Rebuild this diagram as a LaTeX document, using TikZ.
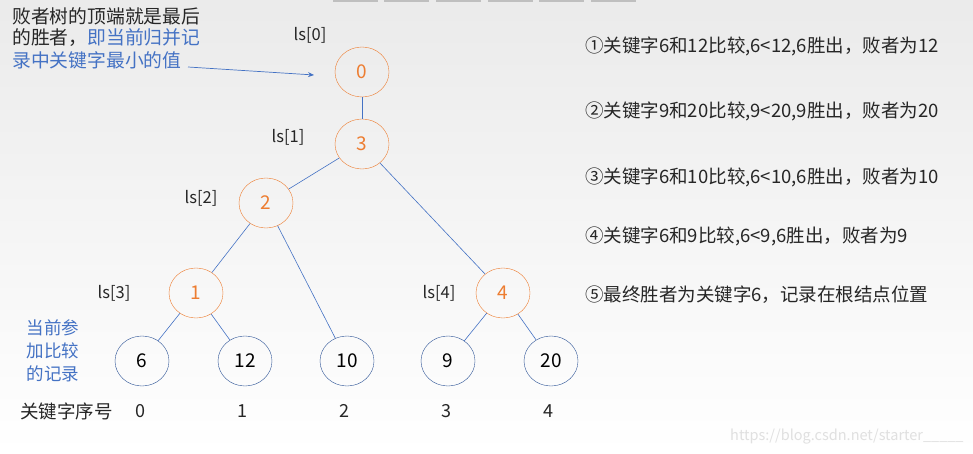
\documentclass[tikz,border=0pt]{standalone}
\usepackage{fontspec}
\setmainfont{Noto Sans CJK SC}
\usetikzlibrary{shapes.geometric,arrows.meta}
\definecolor{orng}{HTML}{ED7D31}
\definecolor{lblue}{HTML}{4472C4}
\definecolor{dblue}{HTML}{2F5597}
\begin{document}
\begin{tikzpicture}[x=1pt,y=-1pt,
  inner/.style={ellipse,draw=orng,text=orng,minimum width=54pt,minimum height=50pt,inner sep=0pt,font=\fontsize{19}{21}\selectfont},
  leaf/.style={ellipse,draw=dblue,text=black,minimum width=54pt,minimum height=50pt,inner sep=0pt,font=\fontsize{19}{21}\selectfont},
  edge/.style={draw=lblue,line width=0.6pt},
  lab/.style={font=\fontsize{16.5}{18}\selectfont,text=black!85,inner sep=0pt},
  note/.style={font=\fontsize{18.5}{20}\selectfont,text=black!85,inner sep=0pt,anchor=west},
  big/.style={font=\fontsize{18.8}{23}\selectfont,inner sep=0pt,anchor=west}]
\useasboundingbox (0,0) rectangle (973,454);
\shade[top color=black!8,bottom color=white] (0,0) rectangle (973,454);
\foreach \a in {333,384,436,488,539,591}{\fill[black!25] (\a,0) rectangle (\a+45,2);}
% tree nodes
\node[inner] (n0) at (362,72) {0};
\node[inner] (n3) at (362,144) {3};
\node[inner] (n2) at (266,203) {2};
\node[inner] (n1) at (196,293) {1};
\node[inner] (n4) at (503,293) {4};
\node[leaf] (k0) at (142,361) {6};
\node[leaf] (k1) at (245,361) {12};
\node[leaf] (k2) at (347,361) {10};
\node[leaf] (k3) at (448,361) {9};
\node[leaf] (k4) at (551,361) {20};
\draw[edge] (n0) -- (n3);
\draw[edge] (n3) -- (n2);
\draw[edge] (n3) -- (n4);
\draw[edge] (n2) -- (n1);
\draw[edge] (n2) -- (k2);
\draw[edge] (n1) -- (k0);
\draw[edge] (n1) -- (k1);
\draw[edge] (n4) -- (k3);
\draw[edge] (n4) -- (k4);
% ls labels
\node[lab] (l0) at (310,35) {ls[0]};
\node[lab] (l1) at (288,137) {ls[1]};
\node[lab] (l2) at (201,198) {ls[2]};
\node[lab] (l3) at (114,293) {ls[3]};
\node[lab] (l4) at (439,293) {ls[4]};
% top-left note
\node[big,text=black!85] (t1) at (12,16) {败者树的顶端就是最后};
\node[big] (t2) at (12,38) {\textcolor{black!85}{的胜者，}\textcolor{lblue}{即当前归并记}};
\node[big,text=lblue] (t3) at (12,60) {录中关键字最小的值};
\coordinate (as) at (188,67);
\coordinate (ae) at (314,75);
\draw[lblue,line width=0.7pt,-{Stealth[length=6pt,width=5pt]}] (as) -- (ae);
% left note
\node[font=\fontsize{17.5}{23}\selectfont,text=lblue,align=center,inner sep=0pt] (cur) at (53,351) {当前参\\加比较\\的记录};
% index row
\node[lab,font=\fontsize{18.5}{20}\selectfont,anchor=west] (idx) at (20,411) {关键字序号};
\node[lab,font=\fontsize{18}{20}\selectfont] (i0) at (140,411) {0};
\node[lab,font=\fontsize{18}{20}\selectfont] (i1) at (242,411) {1};
\node[lab,font=\fontsize{18}{20}\selectfont] (i2) at (344,411) {2};
\node[lab,font=\fontsize{18}{20}\selectfont] (i3) at (446,411) {3};
\node[lab,font=\fontsize{18}{20}\selectfont] (i4) at (548,411) {4};
% right notes
\node[note] (r1) at (585,46) {①关键字6和12比较,6<12,6胜出，败者为12};
\node[note] (r2) at (585,111) {②关键字9和20比较,9<20,9胜出，败者为20};
\node[note] (r3) at (585,177) {③关键字6和10比较,6<10,6胜出，败者为10};
\node[note] (r4) at (585,236) {④关键字6和9比较,6<9,6胜出，败者为9};
\node[note] (r5) at (585,295) {⑤最终胜者为关键字6，记录在根结点位置};
% watermark
\node[font=\fontsize{14.5}{16}\selectfont,text=black!12,anchor=west,inner sep=0pt] (wm) at (730,437) {https://blog.csdn.net/starter\_\_\_\_\_};
\end{tikzpicture}
\end{document}
